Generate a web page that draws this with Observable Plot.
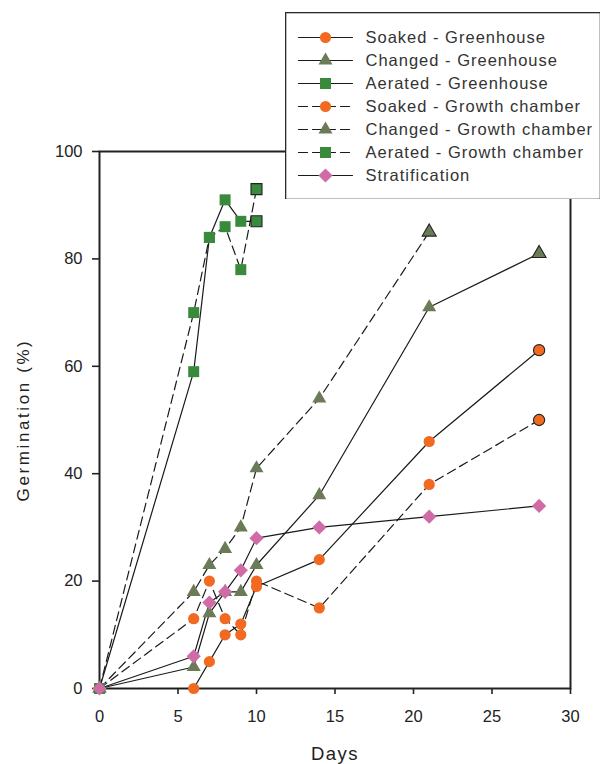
<!DOCTYPE html>
<html><head><meta charset="utf-8">
<script src="https://cdn.jsdelivr.net/npm/d3@7"></script>
<script src="https://cdn.jsdelivr.net/npm/@observablehq/plot@0.6"></script>
<style>
body{margin:0;background:#fff;}
#wrap{position:relative;width:601px;height:764px;overflow:hidden;font-family:Arial,"Liberation Sans",sans-serif;}
#legend{position:absolute;left:285px;top:12px;}
</style></head><body><div id="wrap"><div id="main"></div><div id="legend"></div></div>
<script>
// ---- data ----
const daysFull = [0, 6, 7, 8, 9, 10, 14, 21, 28];
const daysTo21 = [0, 6, 7, 8, 9, 10, 14, 21];
const daysTo10 = [0, 6, 7, 8, 9, 10];

const soakedGreenhouse = [0, 0, 5, 10, 12, 19, 24, 46, 63];
const changedGreenhouse = [0, 4, 14, 18, 18, 23, 36, 71, 81];
const aeratedGreenhouse = [0, 59, 84, 91, 87, 87];
const soakedGrowth = [0, 13, 20, 13, 10, 20, 15, 38, 50];
const changedGrowth = [0, 18, 23, 26, 30, 41, 54, 85];
const aeratedGrowth = [0, 70, 84, 86, 78, 93];
const stratification = [0, 6, 16, 18, 22, 28, 30, 32, 34];

const seriesNames = [
  "Soaked - Greenhouse", "Changed - Greenhouse", "Aerated - Greenhouse",
  "Soaked - Growth chamber", "Changed - Growth chamber", "Aerated - Growth chamber",
  "Stratification"
];
const xTicks = [0, 5, 10, 15, 20, 25, 30];
const yTicks = [0, 20, 40, 60, 80, 100];

// ---- styles ----
const ORANGE = "#F26A22", OLIVE = "#6B7A57", GREEN = "#3A8A3E", PINK = "#D06CA5";
const styles = [
  {days: daysFull, vals: soakedGreenhouse, symbol: "circle", fill: ORANGE, dash: null, r: 5.6, outlineLast: true},
  {days: daysFull, vals: changedGreenhouse, symbol: "triangle", fill: OLIVE, dash: null, r: 5.2, outlineLast: true},
  {days: daysTo10, vals: aeratedGreenhouse, symbol: "square", fill: GREEN, dash: null, r: 6.2, outlineLast: true},
  {days: daysFull, vals: soakedGrowth, symbol: "circle", fill: ORANGE, dash: "9,5", r: 5.6, outlineLast: true},
  {days: daysTo21, vals: changedGrowth, symbol: "triangle", fill: OLIVE, dash: "9,5", r: 5.2, outlineLast: true},
  {days: daysTo10, vals: aeratedGrowth, symbol: "square", fill: GREEN, dash: "9,5", r: 6.2, outlineLast: true},
  {days: daysFull, vals: stratification, symbol: "diamond2", fill: PINK, dash: null, r: 6.4, outlineLast: false}
];

const series = styles.map((s, i) => ({
  ...s,
  name: seriesNames[i],
  data: s.vals.map((v, j) => ({day: s.days[j], value: v, last: j === s.vals.length - 1}))
}));

const FONT = "Arial, 'Liberation Sans', sans-serif";

const lineMarks = series.map(s => Plot.line(s.data, {
  x: "day", y: "value", stroke: "#1a1a1a", strokeWidth: 1.2,
  strokeDasharray: s.dash ?? undefined
}));
const dotMarks = series.map(s => Plot.dot(s.data, {
  x: "day", y: "value", symbol: () => s.symbol, r: s.r, fill: s.fill,
  stroke: d => (s.outlineLast && d.last) ? "#222" : "none", strokeWidth: 1.1
}));

const main = Plot.plot({
  width: 601, height: 764,
  marginLeft: 99, marginRight: 31, marginTop: 151, marginBottom: 76,
  style: {fontFamily: FONT, fontSize: "16px", color: "#222", background: "#fff"},
  x: {domain: [0, 30]},
  y: {domain: [0, 100]},
  marks: [
    Plot.axisY({ticks: yTicks, tickSize: 7, tickPadding: 10, label: null, strokeWidth: 1.6, fontSize: 16.5}),
    Plot.axisX({ticks: xTicks, tickSize: 6, tickPadding: 16, label: null, strokeWidth: 1.6, fontSize: 16.5}),
    Plot.frame({stroke: "#222", strokeWidth: 2}),
    ...lineMarks,
    ...dotMarks,
    Plot.text(["Germination (%)"], {frameAnchor: "left", textAnchor: "middle", rotate: -90, dx: -76, fontSize: 17, fill: "#222"}),
    Plot.text(["Days"], {frameAnchor: "bottom", lineAnchor: "bottom", dy: 71, fontSize: 18.5, fill: "#222"})
  ]
});
main.querySelectorAll("text").forEach(t => {
  if (t.textContent === "Germination (%)") t.setAttribute("letter-spacing", "2.6");
  if (t.textContent === "Days") t.setAttribute("letter-spacing", "1.5");
});
document.getElementById("main").appendChild(main);

// ---- legend ----
const legendRows = series.flatMap(s => [
  {name: s.name, x: 0}, {name: s.name, x: 1}
]);
const legend = Plot.plot({
  width: 315, height: 187,
  margin: 0,
  style: {fontFamily: FONT, fontSize: "16px", color: "#333", background: "#fff"},
  x: {domain: [0, 1], range: [13, 67], axis: null},
  y: {domain: seriesNames, type: "point", padding: 0, range: [24.7, 163.7], axis: null},
  marks: [
    Plot.frame({stroke: "#2a2a2a", strokeWidth: 1.6}),
    ...series.map(s => Plot.line(legendRows.filter(d => d.name === s.name), {
      x: "x", y: "name", stroke: "#1a1a1a", strokeWidth: 1.2, strokeDasharray: s.dash ?? undefined
    })),
    ...series.map(s => Plot.dot([{name: s.name, x: 0.5}], {
      x: "x", y: "name", symbol: () => s.symbol, r: s.r, fill: s.fill, stroke: "none"
    })),
    Plot.text(seriesNames, {x: () => 1, y: d => d, text: d => d, dx: 13, textAnchor: "start",
      fontSize: 16.5, fill: "#333"})
  ]
});
legend.querySelectorAll("text").forEach(t => t.setAttribute("letter-spacing", "1"));
document.getElementById("legend").appendChild(legend);
</script>
</body></html>
